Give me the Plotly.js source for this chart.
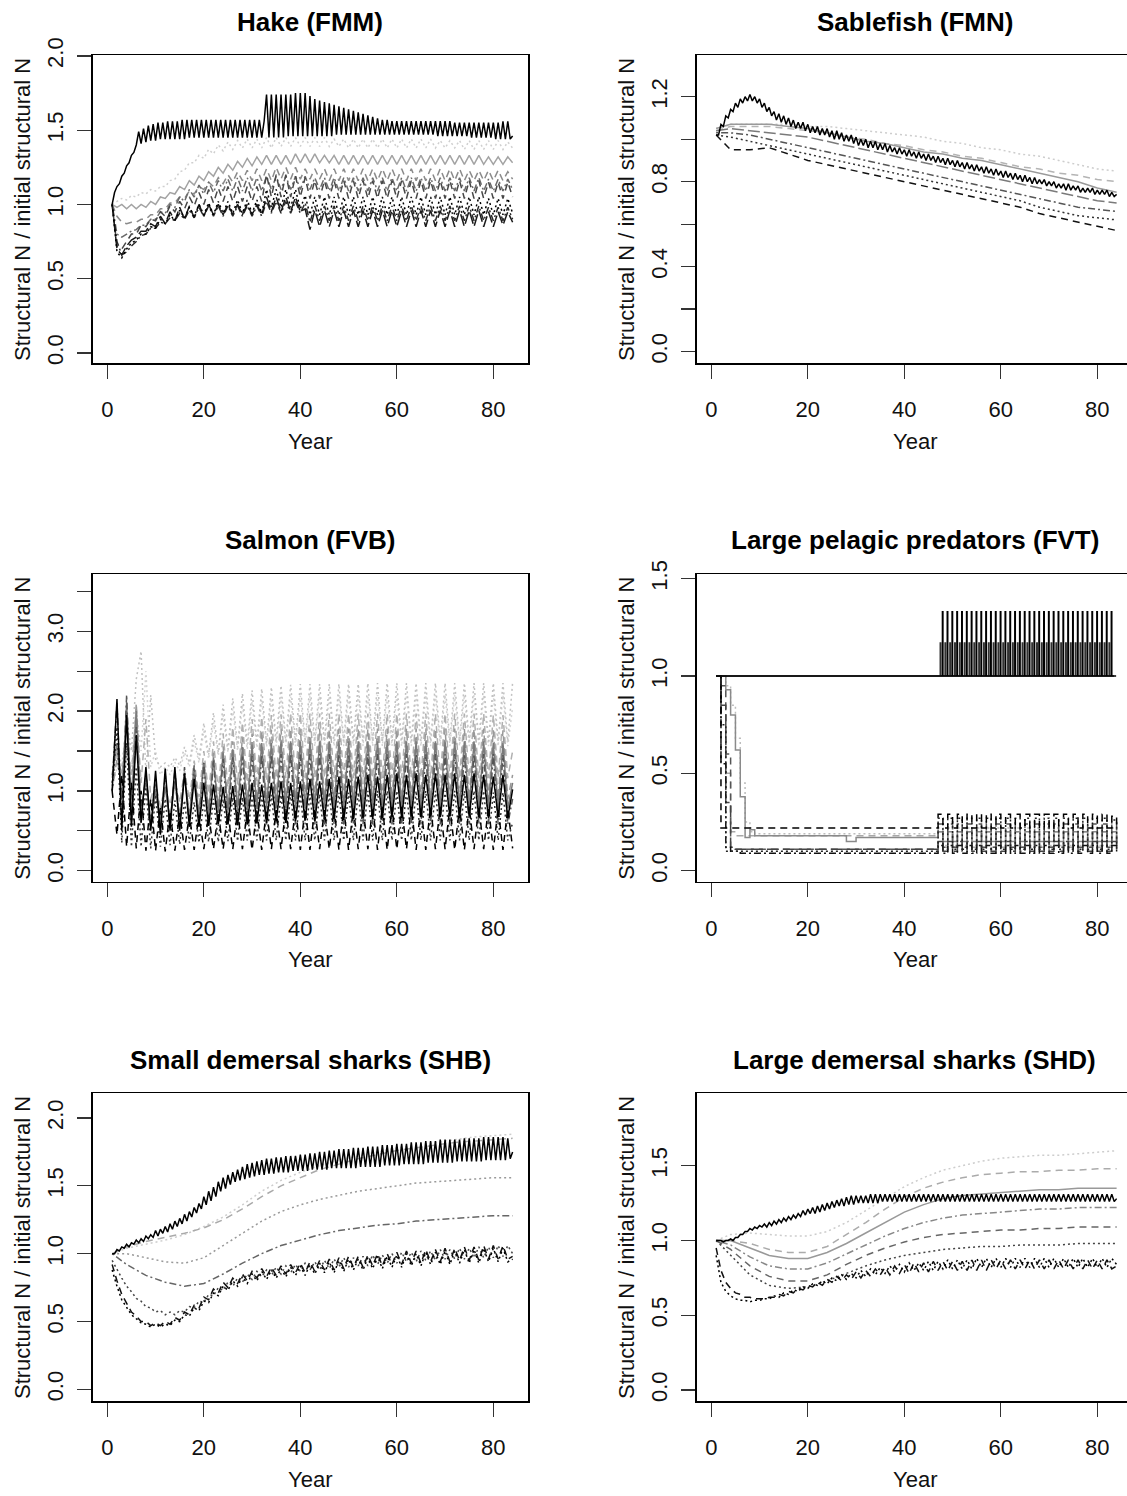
<!DOCTYPE html>
<html><head><meta charset="utf-8">
<script src="https://cdn.plot.ly/plotly-3.0.1.min.js"></script>
<style>html,body{margin:0;padding:0;background:#fff}</style>
</head><body><div id="chart" style="width:1127px;height:1496px"></div>
<script>
// ---------------- DATA ----------------
const years = Array.from({length:84},(_,i)=>i+1);
const halfYears = Array.from({length:167},(_,i)=>1+0.5*i);
const sparseYears = [1,4,8,12,16,20,24,28,32,36,40,44,48,52,56,60,64,68,72,76,80,84];
const fvtLowYears = [1,2,3,4,5,6,7,8,9,28,30,47,48,49,50,51,52,53,54,55,56,57,58,59,60,61,62,63,64,65,66,67,68,69,70,71,72,73,74,75,76,77,78,79,80,81,82,83,84];
const xTickVals = [0,20,40,60,80];
const xTickText = ['0','20','40','60','80'];

// Hake (FMM)  (hake1 sampled every half year)
const hake1 = [1.00,1.08,1.12,1.14,1.19,1.21,1.26,1.28,1.33,1.35,
 1.40,1.49,1.41,1.51,1.42,1.53,1.43,1.54,1.43,1.55,
 1.44,1.55,1.44,1.56,1.44,1.56,1.44,1.56,1.44,1.57,
 1.44,1.57,1.45,1.57,1.45,1.57,1.45,1.57,1.45,1.57,
 1.45,1.57,1.45,1.57,1.45,1.57,1.45,1.57,1.45,1.57,
 1.45,1.57,1.45,1.57,1.45,1.57,1.45,1.57,1.45,1.57,
 1.45,1.57,1.45,1.56,
 1.74,1.45,1.74,1.45,1.74,1.45,1.74,1.45,1.74,1.46,
 1.74,1.46,1.75,1.46,1.75,1.46,1.75,1.46,1.73,1.46,
 1.71,1.46,1.70,1.46,1.69,1.46,1.68,1.46,1.67,1.47,
 1.66,1.47,1.65,1.47,1.64,1.47,1.63,1.47,1.62,1.47,
 1.61,1.47,1.60,1.47,1.59,1.47,1.58,1.47,1.57,1.47,
 1.57,1.47,1.56,1.47,1.56,1.47,1.56,1.47,1.56,1.47,
 1.56,1.47,1.56,1.47,1.56,1.47,1.56,1.47,1.56,1.47,
 1.56,1.46,1.56,1.46,1.56,1.46,1.56,1.46,1.55,1.46,
 1.55,1.46,1.55,1.46,1.55,1.45,1.55,1.45,1.55,1.45,
 1.55,1.45,1.55,1.45,1.55,1.44,1.55,1.44,1.56,1.44,
 1.56,1.44,1.46];
const hake2 = [1.00,1.02,1.04,1.03,1.06,1.05,1.08,1.07,1.10,1.09,
 1.12,1.12,1.16,1.17,1.22,1.23,1.28,1.28,1.33,1.31,
 1.37,1.34,1.40,1.36,1.42,1.37,1.43,1.38,1.44,1.38,
 1.44,1.38,1.45,1.38,1.45,1.39,1.45,1.39,1.45,1.39,
 1.45,1.39,1.45,1.39,1.45,1.39,1.44,1.39,1.44,1.38,
 1.44,1.38,1.44,1.38,1.44,1.38,1.44,1.38,1.44,1.38,
 1.44,1.38,1.44,1.38,1.44,1.38,1.44,1.38,1.43,1.38,
 1.43,1.38,1.43,1.37,1.43,1.37,1.43,1.37,1.43,1.37,
 1.43,1.37,1.42,1.38];
const hake3 = [1.00,0.98,1.00,0.97,1.00,0.97,1.00,0.98,1.02,1.00,
 1.05,1.04,1.08,1.07,1.12,1.10,1.16,1.13,1.19,1.16,
 1.22,1.19,1.25,1.21,1.27,1.23,1.29,1.25,1.31,1.26,
 1.32,1.27,1.33,1.27,1.33,1.27,1.33,1.27,1.34,1.28,
 1.34,1.28,1.34,1.28,1.33,1.28,1.33,1.27,1.33,1.27,
 1.33,1.27,1.33,1.27,1.33,1.27,1.33,1.27,1.33,1.27,
 1.33,1.27,1.33,1.27,1.33,1.27,1.33,1.27,1.33,1.27,
 1.33,1.27,1.33,1.27,1.33,1.27,1.33,1.27,1.32,1.27,
 1.32,1.27,1.32,1.28];
const hake4 = [1.00,0.92,0.88,0.87,0.88,0.88,0.90,0.90,0.93,0.93,
 0.97,0.97,1.01,1.01,1.05,1.04,1.09,1.07,1.12,1.10,
 1.15,1.12,1.18,1.14,1.20,1.15,1.22,1.16,1.23,1.16,
 1.24,1.16,1.24,1.16,1.25,1.17,1.25,1.17,1.25,1.17,
 1.24,1.17,1.24,1.17,1.24,1.16,1.24,1.16,1.24,1.16,
 1.24,1.16,1.24,1.16,1.24,1.16,1.24,1.16,1.24,1.16,
 1.24,1.16,1.24,1.16,1.24,1.16,1.24,1.16,1.24,1.16,
 1.24,1.16,1.24,1.16,1.23,1.16,1.23,1.16,1.23,1.16,
 1.23,1.16,1.22,1.17];
const hake5 = [1.00,0.80,0.78,0.80,0.82,0.83,0.86,0.86,0.90,0.90,
 0.95,0.94,1.00,0.98,1.05,1.02,1.10,1.05,1.13,1.07,
 1.15,1.08,1.16,1.09,1.17,1.09,1.18,1.09,1.18,1.09,
 1.18,1.09,1.19,1.10,1.19,1.10,1.19,1.10,1.19,1.10,
 1.19,1.10,1.18,1.10,1.18,1.09,1.18,1.09,1.18,1.09,
 1.18,1.09,1.18,1.09,1.18,1.09,1.18,1.09,1.18,1.09,
 1.18,1.09,1.18,1.09,1.18,1.09,1.18,1.09,1.18,1.09,
 1.18,1.09,1.18,1.09,1.18,1.09,1.18,1.09,1.17,1.09,
 1.17,1.09,1.17,1.10];
const hake6 = [1.00,0.72,0.70,0.75,0.80,0.80,0.86,0.85,0.90,0.89,
 0.95,0.92,0.99,0.95,1.02,0.97,1.05,0.99,1.08,1.00,
 1.10,1.01,1.11,1.02,1.12,1.02,1.12,1.02,1.12,1.02,
 1.12,1.02,1.20,1.05,1.20,1.05,1.20,1.05,1.19,1.05,
 1.18,1.04,1.16,1.04,1.16,1.04,1.16,1.04,1.16,1.04,
 1.16,1.04,1.16,1.04,1.16,1.04,1.16,1.04,1.16,1.04,
 1.16,1.04,1.16,1.04,1.16,1.04,1.16,1.04,1.16,1.04,
 1.16,1.04,1.16,1.04,1.16,1.04,1.16,1.04,1.15,1.04,
 1.15,1.04,1.15,1.05];
const hake7 = [1.00,0.68,0.64,0.70,0.74,0.76,0.80,0.80,0.85,0.84,
 0.90,0.87,0.93,0.89,0.96,0.91,0.98,0.92,1.00,0.93,
 1.01,0.93,1.02,0.94,1.02,0.94,1.03,0.94,1.03,0.94,
 1.03,0.94,1.10,0.98,1.10,0.98,1.10,0.98,1.10,0.97,
 1.06,0.93,1.05,0.93,1.05,0.93,1.05,0.93,1.05,0.93,
 1.05,0.93,1.05,0.93,1.05,0.93,1.05,0.93,1.05,0.93,
 1.05,0.93,1.05,0.93,1.05,0.93,1.05,0.93,1.05,0.93,
 1.05,0.93,1.05,0.93,1.05,0.93,1.05,0.93,1.04,0.93,
 1.04,0.93,1.04,0.94];
const hake8 = [1.00,0.70,0.66,0.72,0.76,0.78,0.82,0.82,0.87,0.85,
 0.92,0.87,0.95,0.89,0.98,0.90,0.99,0.91,1.00,0.92,
 1.00,0.93,1.00,0.93,1.00,0.93,1.00,0.93,1.00,0.93,
 1.00,0.93,1.05,0.95,1.05,0.95,1.05,0.95,1.05,0.95,
 0.97,0.83,0.96,0.85,0.96,0.85,0.96,0.85,0.96,0.85,
 0.96,0.85,0.96,0.85,0.96,0.85,0.96,0.85,0.96,0.85,
 0.96,0.85,0.96,0.85,0.96,0.85,0.96,0.85,0.96,0.85,
 0.96,0.85,0.96,0.85,0.96,0.85,0.96,0.85,0.95,0.85,
 0.95,0.86,0.95,0.88];
const hake9 = [1.00,0.75,0.66,0.68,0.72,0.75,0.79,0.80,0.84,0.84,
 0.88,0.87,0.91,0.89,0.94,0.90,0.96,0.91,0.98,0.92,
 0.99,0.92,0.99,0.92,0.99,0.92,0.99,0.92,0.99,0.92,
 0.99,0.92,1.02,0.94,1.02,0.94,1.02,0.94,1.02,0.94,
 1.01,0.88,0.99,0.89,0.99,0.89,0.99,0.89,0.99,0.89,
 0.99,0.89,0.99,0.89,0.99,0.89,0.99,0.89,0.99,0.89,
 0.99,0.89,0.99,0.89,0.99,0.89,0.99,0.89,0.99,0.89,
 0.99,0.89,0.99,0.89,0.99,0.89,0.99,0.89,0.98,0.89,
 0.98,0.89,0.98,0.90];

// Sablefish (FMN)  (sable1 sampled every half year)
const sable1 = [1.02,1.02,1.07,1.06,1.11,1.10,1.14,1.13,1.17,1.15,
 1.19,1.17,1.20,1.18,1.21,1.18,1.20,1.17,1.19,1.15,
 1.17,1.13,1.15,1.11,1.13,1.09,1.12,1.08,1.11,1.07,
 1.10,1.06,1.09,1.05,1.08,1.05,1.08,1.04,1.07,1.03,
 1.06,1.03,1.06,1.02,1.05,1.02,1.05,1.01,1.04,1.00,
 1.04,1.00,1.03,0.99,1.02,0.99,1.02,0.98,1.01,0.97,
 1.00,0.97,1.00,0.96,
 0.99,0.96,0.99,0.95,0.98,0.95,0.98,0.94,0.97,0.94,
 0.96,0.93,0.96,0.93,0.95,0.92,0.95,0.92,0.94,0.91,
 0.94,0.91,0.93,0.90,0.93,0.90,0.92,0.89,0.92,0.89,
 0.91,0.88,0.91,0.88,0.90,0.87,0.90,0.87,0.89,0.86,
 0.89,0.86,0.88,0.85,0.88,0.85,0.87,0.84,0.87,0.84,
 0.86,0.83,0.86,0.83,0.85,0.82,0.85,0.82,0.84,0.81,
 0.84,0.81,0.83,0.80,0.83,0.80,0.82,0.79,0.82,0.79,
 0.81,0.79,0.81,0.78,0.80,0.78,0.80,0.77,0.79,0.77,
 0.79,0.76,0.79,0.76,0.78,0.76,0.78,0.75,0.77,0.75,
 0.77,0.75,0.77,0.74,0.76,0.74,0.76,0.74,0.76,0.73,
 0.75,0.73,0.74];
const sable2 = [1.05,1.07,1.07,1.07,1.07,1.06,1.06,1.05,1.04,1.03,1.02,1.01,0.99,0.98,0.96,0.95,0.93,0.92,0.90,0.88,0.86,0.85];
const sable3 = [1.05,1.07,1.07,1.07,1.06,1.05,1.03,1.01,0.99,0.98,0.96,0.94,0.93,0.91,0.90,0.88,0.86,0.84,0.82,0.80,0.77,0.75];
const sable4 = [1.04,1.06,1.06,1.06,1.05,1.04,1.03,1.01,1.00,0.98,0.97,0.95,0.94,0.92,0.91,0.89,0.87,0.86,0.84,0.83,0.81,0.80];
const sable5 = [1.04,1.05,1.04,1.03,1.02,1.01,0.99,0.97,0.95,0.93,0.91,0.89,0.87,0.85,0.83,0.81,0.79,0.77,0.75,0.73,0.71,0.70];
const sable6 = [1.03,1.03,1.02,1.00,0.98,0.96,0.94,0.92,0.90,0.88,0.86,0.84,0.82,0.80,0.78,0.76,0.74,0.72,0.70,0.68,0.67,0.66];
const sable7 = [1.02,1.01,0.99,0.97,0.95,0.93,0.91,0.89,0.87,0.85,0.83,0.81,0.79,0.77,0.75,0.73,0.71,0.68,0.66,0.64,0.63,0.62];
const sable8 = [1.02,0.95,0.95,0.96,0.93,0.90,0.88,0.86,0.84,0.82,0.80,0.78,0.76,0.74,0.72,0.70,0.68,0.65,0.63,0.61,0.59,0.57];

// Salmon (FVB)
const salmon1 = [1.00,2.15,0.50,1.95,0.55,1.70,0.60,1.30,0.50,1.25,
 0.45,1.28,0.50,1.30,0.50,1.22,0.55,1.15,0.55,1.10,
 0.56,1.08,0.58,1.05,0.58,1.06,0.57,1.08,0.58,1.10,
 0.60,1.08,0.60,1.10,0.62,1.12,0.60,1.10,0.62,1.12,
 0.63,1.15,0.62,1.12,0.64,1.15,0.65,1.18,0.63,1.15,
 0.65,1.18,0.66,1.20,0.65,1.18,0.66,1.20,0.67,1.22,
 0.66,1.20,0.68,1.22,0.67,1.20,0.68,1.22,0.67,1.20,
 0.68,1.22,0.66,1.20,0.68,1.22,0.67,1.20,0.66,1.18,
 0.67,1.20,0.66,1.02];
const salmon2 = [1.00,0.45,1.20,0.30,1.10,0.28,1.00,0.25,0.90,0.25,
 0.80,0.24,0.75,0.25,0.72,0.26,0.70,0.26,0.70,0.27,
 0.70,0.27,0.72,0.27,0.72,0.27,0.74,0.27,0.75,0.26,
 0.75,0.26,0.76,0.27,0.76,0.27,0.78,0.27,0.78,0.26,
 0.78,0.26,0.78,0.27,0.76,0.27,0.78,0.26,0.78,0.26,
 0.78,0.27,0.78,0.27,0.80,0.26,0.80,0.26,0.80,0.27,
 0.80,0.27,0.80,0.26,0.80,0.26,0.80,0.27,0.80,0.27,
 0.80,0.26,0.80,0.26,0.80,0.27,0.80,0.27,0.80,0.26,
 0.78,0.26,0.78,0.28];
const salmon3 = [1.00,1.80,0.35,1.60,0.30,1.30,0.30,1.05,0.28,0.95,
 0.30,0.90,0.32,0.88,0.33,0.88,0.35,0.86,0.35,0.88,
 0.36,0.90,0.36,0.90,0.37,0.92,0.37,0.92,0.38,0.94,
 0.38,0.94,0.38,0.95,0.38,0.95,0.38,0.96,0.38,0.96,
 0.38,0.96,0.38,0.96,0.38,0.98,0.38,0.98,0.38,0.98,
 0.38,0.98,0.38,1.00,0.38,1.00,0.38,1.00,0.38,1.00,
 0.38,1.00,0.38,1.00,0.38,1.00,0.38,1.00,0.38,1.00,
 0.38,1.00,0.38,1.00,0.38,1.00,0.38,1.00,0.38,0.98,
 0.38,0.98,0.38,0.60];
const salmon4 = [1.10,2.10,0.60,2.20,0.60,1.80,0.60,1.20,0.60,1.10,
 0.55,1.20,0.55,1.25,0.55,1.30,0.55,1.32,0.55,1.35,
 0.56,1.38,0.56,1.40,0.57,1.42,0.57,1.43,0.58,1.44,
 0.58,1.45,0.58,1.45,0.58,1.46,0.58,1.46,0.58,1.46,
 0.58,1.46,0.58,1.46,0.58,1.46,0.58,1.46,0.58,1.46,
 0.58,1.46,0.58,1.46,0.58,1.46,0.58,1.46,0.58,1.46,
 0.58,1.46,0.58,1.46,0.58,1.46,0.58,1.46,0.58,1.46,
 0.58,1.46,0.58,1.46,0.58,1.46,0.58,1.46,0.58,1.46,
 0.58,1.45,0.58,0.90];
const salmon5 = [1.20,1.60,0.90,2.10,0.80,2.00,0.70,1.20,0.55,1.00,
 0.60,1.05,0.62,1.12,0.64,1.20,0.66,1.28,0.68,1.35,
 0.70,1.42,0.72,1.48,0.74,1.52,0.75,1.55,0.76,1.58,
 0.77,1.60,0.78,1.60,0.78,1.62,0.78,1.62,0.78,1.62,
 0.78,1.62,0.78,1.62,0.78,1.62,0.78,1.62,0.78,1.62,
 0.78,1.62,0.78,1.62,0.78,1.62,0.78,1.62,0.78,1.62,
 0.78,1.62,0.78,1.62,0.78,1.62,0.78,1.62,0.78,1.62,
 0.78,1.62,0.78,1.62,0.78,1.62,0.78,1.62,0.78,1.60,
 0.78,1.60,0.78,1.10];
const salmon6 = [1.00,1.40,1.10,1.90,0.90,2.10,0.80,1.10,0.60,0.95,
 0.65,1.00,0.68,1.08,0.70,1.18,0.72,1.28,0.75,1.38,
 0.78,1.48,0.80,1.56,0.82,1.62,0.84,1.68,0.86,1.72,
 0.88,1.75,0.88,1.77,0.90,1.78,0.90,1.78,0.90,1.78,
 0.90,1.78,0.90,1.78,0.90,1.78,0.90,1.78,0.90,1.78,
 0.90,1.78,0.90,1.78,0.90,1.78,0.90,1.78,0.90,1.78,
 0.90,1.78,0.90,1.78,0.90,1.78,0.90,1.78,0.90,1.78,
 0.90,1.78,0.90,1.78,0.90,1.78,0.90,1.78,0.90,1.76,
 0.90,1.76,0.90,1.20];
const salmon7 = [1.10,1.50,1.20,1.60,1.20,2.05,1.10,1.90,0.90,1.10,
 0.80,1.05,0.82,1.12,0.85,1.25,0.88,1.38,0.92,1.50,
 0.96,1.62,1.00,1.72,1.04,1.80,1.08,1.86,1.10,1.90,
 1.12,1.93,1.14,1.95,1.15,1.96,1.16,1.97,1.16,1.97,
 1.16,1.97,1.16,1.97,1.16,1.97,1.16,1.97,1.16,1.97,
 1.16,1.97,1.16,1.97,1.16,1.97,1.16,1.97,1.16,1.97,
 1.16,1.97,1.16,1.97,1.16,1.97,1.16,1.97,1.16,1.97,
 1.16,1.97,1.16,1.97,1.16,1.97,1.16,1.97,1.16,1.95,
 1.16,1.95,1.16,1.50];
const salmon8 = [1.00,1.60,1.30,1.90,1.50,2.40,2.75,1.20,2.20,1.40,
 1.30,1.35,1.30,1.42,1.32,1.55,1.35,1.70,1.40,1.85,
 1.45,1.98,1.48,2.08,1.52,2.16,1.55,2.22,1.58,2.26,
 1.60,2.28,1.60,2.30,1.62,2.32,1.62,2.33,1.62,2.34,
 1.62,2.34,1.62,2.34,1.62,2.34,1.62,2.34,1.62,2.34,
 1.62,2.34,1.62,2.35,1.62,2.35,1.62,2.35,1.62,2.35,
 1.62,2.35,1.62,2.35,1.62,2.35,1.62,2.35,1.62,2.35,
 1.62,2.35,1.62,2.35,1.62,2.35,1.62,2.35,1.62,2.35,
 1.62,2.35,1.62,2.36];
const salmon9 = [1.00,1.30,1.20,1.50,1.30,2.00,1.50,2.50,1.30,1.50,
 1.20,1.30,1.20,1.36,1.25,1.48,1.30,1.62,1.35,1.75,
 1.40,1.86,1.44,1.95,1.48,2.02,1.50,2.08,1.52,2.12,
 1.54,2.14,1.55,2.16,1.56,2.18,1.56,2.18,1.56,2.19,
 1.56,2.19,1.56,2.19,1.56,2.19,1.56,2.20,1.56,2.20,
 1.56,2.20,1.56,2.20,1.56,2.20,1.56,2.20,1.56,2.20,
 1.56,2.20,1.56,2.20,1.56,2.20,1.56,2.20,1.56,2.20,
 1.56,2.20,1.56,2.20,1.56,2.20,1.56,2.20,1.56,2.20,
 1.56,2.20,1.56,2.05];

// Large pelagic predators (FVT)
const fvtTop1 = [1.00,1.00,
 1.33,1.00,1.33,1.00,1.33,1.00,1.33,1.00,1.33,1.00,1.33,1.00,1.33,1.00,1.33,1.00,1.33,1.00,1.33,1.00,
 1.33,1.00,1.33,1.00,1.33,1.00,1.33,1.00,1.33,1.00,1.33,1.00,1.33,1.00,1.33,1.00,1.33,1.00,1.33,1.00,
 1.33,1.00,1.33,1.00,1.33,1.00,1.33,1.00,1.33,1.00,1.33,1.00,1.33,1.00,1.33,1.00,1.33,1.00,1.33,1.00,
 1.33,1.00,1.33,1.00,1.33,1.00,1.33,1.00,1.33,1.00,1.33,1.00,1.00];
const fvtTop2 = [1.00,1.00,
 1.17,1.00,1.17,1.00,1.17,1.00,1.17,1.00,1.17,1.00,1.17,1.00,1.17,1.00,1.17,1.00,1.17,1.00,1.17,1.00,
 1.17,1.00,1.17,1.00,1.17,1.00,1.17,1.00,1.17,1.00,1.17,1.00,1.17,1.00,1.17,1.00,1.17,1.00,1.17,1.00,
 1.17,1.00,1.17,1.00,1.17,1.00,1.17,1.00,1.17,1.00,1.17,1.00,1.17,1.00,1.17,1.00,1.17,1.00,1.17,1.00,
 1.17,1.00,1.17,1.00,1.17,1.00,1.17,1.00,1.17,1.00,1.17,1.00,1.00];
const fvtA = [1.00,0.22,0.22,0.22,0.22,0.22,0.22,0.22,0.22,0.22,0.22,
 0.29,0.22,0.29,0.22,0.29,0.22,0.29,0.22,0.29,0.22,0.29,0.22,0.29,0.22,0.29,0.22,0.29,0.22,
 0.29,0.22,0.29,0.22,0.29,0.22,0.29,0.22,0.29,0.22,0.29,0.22,0.29,0.22,0.29,0.22,0.29,0.22,0.28,0.22];
const fvtB = [1.00,0.75,0.10,0.10,0.10,0.10,0.10,0.10,0.10,0.10,0.10,
 0.27,0.11,0.27,0.11,0.27,0.11,0.27,0.11,0.27,0.11,0.27,0.11,0.27,0.11,0.27,0.11,0.27,0.11,
 0.27,0.11,0.27,0.11,0.27,0.11,0.27,0.11,0.27,0.11,0.27,0.11,0.27,0.11,0.27,0.11,0.27,0.11,0.26,0.11];
const fvtC = [1.00,0.95,0.60,0.12,0.11,0.11,0.11,0.11,0.11,0.11,0.11,
 0.24,0.12,0.24,0.12,0.24,0.12,0.24,0.12,0.24,0.12,0.24,0.12,0.24,0.12,0.24,0.12,0.24,0.12,
 0.24,0.12,0.24,0.12,0.24,0.12,0.24,0.12,0.24,0.12,0.24,0.12,0.24,0.12,0.24,0.12,0.24,0.12,0.24,0.12];
const fvtD = [1.00,1.00,0.93,0.80,0.62,0.38,0.17,0.21,0.18,0.15,0.17,
 0.20,0.15,0.20,0.15,0.20,0.15,0.20,0.15,0.20,0.15,0.20,0.15,0.20,0.15,0.20,0.15,0.20,0.15,
 0.20,0.15,0.20,0.15,0.20,0.15,0.20,0.15,0.20,0.15,0.20,0.15,0.20,0.15,0.20,0.15,0.20,0.15,0.20,0.15];
const fvtE = [1.00,1.00,0.95,0.85,0.68,0.45,0.25,0.20,0.19,0.19,0.19,
 0.22,0.13,0.22,0.13,0.22,0.13,0.22,0.13,0.22,0.13,0.22,0.13,0.22,0.13,0.22,0.13,0.22,0.13,
 0.22,0.13,0.22,0.13,0.22,0.13,0.22,0.13,0.22,0.13,0.22,0.13,0.22,0.13,0.22,0.13,0.22,0.13,0.22,0.13];
const fvtF = [1.00,0.80,0.50,0.20,0.18,0.18,0.18,0.18,0.18,0.18,0.18,
 0.20,0.12,0.20,0.12,0.20,0.12,0.20,0.12,0.20,0.12,0.20,0.12,0.20,0.12,0.20,0.12,0.20,0.12,
 0.20,0.12,0.20,0.12,0.20,0.12,0.20,0.12,0.20,0.12,0.20,0.12,0.20,0.12,0.20,0.12,0.20,0.12,0.20,0.12];
const fvtG = [1.00,0.55,0.12,0.10,0.10,0.09,0.09,0.09,0.09,0.09,0.09,
 0.13,0.09,0.13,0.09,0.13,0.09,0.13,0.09,0.13,0.09,0.13,0.09,0.13,0.09,0.13,0.09,0.13,0.09,
 0.13,0.09,0.13,0.09,0.13,0.09,0.13,0.09,0.13,0.09,0.13,0.09,0.13,0.09,0.13,0.09,0.13,0.09,0.13,0.09];
const fvtH = [1.00,0.85,0.35,0.12,0.11,0.11,0.11,0.11,0.11,0.11,0.11,
 0.15,0.10,0.15,0.10,0.15,0.10,0.15,0.10,0.15,0.10,0.15,0.10,0.15,0.10,0.15,0.10,0.15,0.10,
 0.15,0.10,0.15,0.10,0.15,0.10,0.15,0.10,0.15,0.10,0.15,0.10,0.15,0.10,0.15,0.10,0.15,0.10,0.15,0.10];

// Small demersal sharks (SHB)  (shb1 sampled every half year)
const shb1 = [1.00,1.00,1.03,1.02,1.05,1.04,1.07,1.05,1.08,1.07,
 1.10,1.08,1.11,1.09,1.13,1.11,1.14,1.12,1.17,1.13,
 1.18,1.15,1.20,1.16,1.22,1.18,1.24,1.20,1.26,1.22,
 1.29,1.24,1.31,1.27,1.34,1.30,1.37,1.33,1.42,1.36,
 1.46,1.39,1.49,1.42,1.53,1.46,1.56,1.48,1.58,1.51,
 1.60,1.53,1.62,1.54,1.64,1.55,1.66,1.56,1.67,1.57,
 1.68,1.58,1.69,1.58,
 1.70,1.59,1.70,1.59,1.71,1.60,1.71,1.60,1.72,1.60,
 1.72,1.61,1.72,1.61,1.73,1.61,1.73,1.61,1.74,1.62,
 1.74,1.62,1.75,1.62,1.75,1.62,1.76,1.63,1.76,1.63,
 1.77,1.63,1.77,1.63,1.77,1.63,1.78,1.63,1.78,1.64,
 1.78,1.64,1.79,1.64,1.79,1.64,1.79,1.64,1.80,1.65,
 1.80,1.65,1.80,1.65,1.81,1.65,1.81,1.66,1.81,1.66,
 1.82,1.66,1.82,1.66,1.82,1.66,1.83,1.67,1.83,1.67,
 1.83,1.67,1.84,1.67,1.84,1.67,1.84,1.67,1.84,1.68,
 1.84,1.68,1.85,1.68,1.85,1.68,1.85,1.68,1.85,1.68,
 1.86,1.69,1.86,1.69,1.86,1.69,1.86,1.69,1.86,1.69,
 1.85,1.70,1.75];
const shb2 = [1.00,1.04,1.07,1.10,1.14,1.20,1.27,1.36,1.46,1.54,1.60,1.65,1.69,1.72,1.75,1.78,1.80,1.82,1.84,1.86,1.87,1.88];
const shb3 = [1.00,1.05,1.09,1.12,1.15,1.19,1.25,1.33,1.42,1.50,1.56,1.62,1.66,1.70,1.73,1.76,1.78,1.80,1.82,1.83,1.84,1.85];
const shb4 = [1.00,1.00,0.97,0.94,0.93,0.97,1.06,1.15,1.24,1.31,1.36,1.40,1.43,1.46,1.48,1.50,1.52,1.53,1.54,1.55,1.56,1.56];
const shb5 = [1.00,0.92,0.84,0.79,0.76,0.78,0.85,0.93,1.00,1.06,1.10,1.14,1.17,1.19,1.21,1.22,1.24,1.25,1.26,1.27,1.28,1.28];
const shb6 = [0.95,0.88,0.82,0.76,0.72,0.67,0.65,0.61,0.60,0.57,
 0.58,0.55,0.57,0.55,0.58,0.57,0.61,0.60,0.65,0.64,
 0.70,0.69,0.75,0.73,0.79,0.76,0.82,0.79,0.85,0.81,
 0.87,0.83,0.88,0.84,0.90,0.85,0.91,0.86,0.92,0.87,
 0.93,0.88,0.94,0.88,0.95,0.89,0.96,0.90,0.97,0.90,
 0.97,0.91,0.98,0.91,0.99,0.92,0.99,0.93,1.00,0.93,
 1.01,0.94,1.01,0.94,1.02,0.95,1.02,0.95,1.03,0.96,
 1.03,0.96,1.04,0.96,1.04,0.97,1.05,0.97,1.05,0.97,
 1.06,0.98,1.06,1.00];
const shb7 = [0.92,0.80,0.70,0.63,0.57,0.54,0.50,0.50,0.47,0.49,
 0.47,0.50,0.48,0.53,0.51,0.57,0.55,0.62,0.60,0.68,
 0.66,0.74,0.71,0.79,0.75,0.82,0.78,0.85,0.80,0.87,
 0.82,0.89,0.83,0.90,0.84,0.91,0.85,0.92,0.86,0.93,
 0.86,0.94,0.87,0.95,0.88,0.96,0.88,0.97,0.89,0.98,
 0.90,0.98,0.90,0.99,0.91,1.00,0.91,1.00,0.92,1.01,
 0.92,1.02,0.93,1.02,0.93,1.03,0.94,1.03,0.94,1.04,
 0.94,1.04,0.95,1.05,0.95,1.05,0.95,1.06,0.96,1.06,
 0.96,1.06,0.96,0.98];
const shb8 = [0.88,0.76,0.66,0.60,0.55,0.52,0.49,0.48,0.46,0.48,
 0.46,0.48,0.47,0.51,0.50,0.55,0.54,0.60,0.58,0.65,
 0.64,0.71,0.69,0.76,0.73,0.80,0.76,0.83,0.78,0.85,
 0.80,0.87,0.81,0.88,0.82,0.89,0.83,0.90,0.84,0.91,
 0.84,0.92,0.85,0.93,0.86,0.94,0.86,0.95,0.87,0.96,
 0.88,0.96,0.88,0.97,0.89,0.98,0.89,0.98,0.90,0.99,
 0.90,1.00,0.91,1.00,0.91,1.01,0.92,1.01,0.92,1.02,
 0.92,1.02,0.93,1.03,0.93,1.03,0.93,1.04,0.94,1.04,
 0.94,1.04,0.94,0.96];

// Large demersal sharks (SHD)  (shd1 sampled every half year)
const shd1 = [1.00,1.00,1.00,0.99,1.00,1.00,1.01,1.00,1.02,1.02,
 1.04,1.04,1.06,1.06,1.08,1.07,1.09,1.08,1.10,1.09,
 1.11,1.09,1.12,1.10,1.13,1.11,1.14,1.12,1.15,1.13,
 1.16,1.14,1.17,1.15,1.18,1.16,1.20,1.17,1.21,1.18,
 1.22,1.18,1.23,1.19,1.24,1.20,1.25,1.21,1.26,1.22,
 1.27,1.23,1.28,1.23,1.29,1.24,1.30,1.24,1.30,1.25,
 1.30,1.25,1.30,1.25,
 1.31,1.25,1.31,1.25,1.31,1.26,1.31,1.26,1.31,1.26,
 1.31,1.26,1.31,1.26,1.31,1.26,1.31,1.26,1.31,1.26,
 1.31,1.26,1.31,1.26,1.31,1.26,1.31,1.26,1.31,1.26,
 1.31,1.26,1.31,1.26,1.31,1.26,1.31,1.26,1.31,1.26,
 1.31,1.26,1.31,1.26,1.31,1.26,1.31,1.26,1.31,1.26,
 1.31,1.26,1.31,1.26,1.31,1.26,1.31,1.26,1.31,1.26,
 1.31,1.26,1.31,1.26,1.31,1.26,1.31,1.26,1.31,1.26,
 1.31,1.26,1.31,1.26,1.31,1.26,1.31,1.26,1.31,1.26,
 1.31,1.26,1.31,1.26,1.31,1.26,1.31,1.26,1.31,1.26,
 1.31,1.26,1.31,1.26,1.31,1.26,1.31,1.26,1.31,1.26,
 1.31,1.26,1.28];
const shd2 = [1.00,1.04,1.05,1.04,1.03,1.03,1.06,1.12,1.20,1.28,1.36,1.42,1.47,1.50,1.53,1.55,1.56,1.57,1.57,1.58,1.59,1.60];
const shd3 = [1.00,1.00,0.98,0.94,0.92,0.92,0.96,1.04,1.12,1.21,1.29,1.35,1.39,1.42,1.44,1.45,1.46,1.46,1.47,1.47,1.48,1.48];
const shd4 = [1.00,1.00,0.95,0.90,0.88,0.88,0.92,0.98,1.05,1.12,1.19,1.24,1.28,1.30,1.31,1.32,1.33,1.34,1.34,1.35,1.35,1.35];
const shd5 = [1.00,0.97,0.89,0.83,0.81,0.81,0.85,0.91,0.97,1.03,1.08,1.12,1.15,1.17,1.18,1.19,1.20,1.21,1.21,1.22,1.22,1.22];
const shd6 = [1.00,0.94,0.83,0.76,0.73,0.73,0.77,0.84,0.90,0.95,0.99,1.02,1.04,1.05,1.06,1.07,1.07,1.08,1.08,1.09,1.09,1.09];
const shd7 = [1.00,0.90,0.77,0.70,0.68,0.69,0.73,0.78,0.83,0.87,0.90,0.92,0.94,0.95,0.96,0.96,0.97,0.97,0.97,0.98,0.98,0.98];
const shd8 = [0.95,0.80,0.72,0.68,0.65,0.64,0.62,0.62,0.61,0.61,
 0.61,0.62,0.62,0.64,0.63,0.66,0.65,0.68,0.67,0.70,
 0.69,0.72,0.70,0.74,0.72,0.76,0.73,0.77,0.74,0.79,
 0.75,0.80,0.76,0.81,0.77,0.82,0.77,0.83,0.78,0.84,
 0.78,0.85,0.79,0.85,0.79,0.86,0.80,0.86,0.80,0.86,
 0.80,0.86,0.80,0.87,0.80,0.87,0.80,0.87,0.81,0.87,
 0.81,0.87,0.81,0.87,0.81,0.87,0.81,0.87,0.81,0.87,
 0.81,0.87,0.81,0.87,0.81,0.87,0.81,0.87,0.81,0.87,
 0.81,0.87,0.81,0.83];
const shd9 = [0.90,0.72,0.66,0.63,0.61,0.60,0.60,0.59,0.60,0.60,
 0.61,0.61,0.63,0.62,0.65,0.64,0.67,0.66,0.69,0.68,
 0.71,0.70,0.73,0.71,0.75,0.73,0.77,0.74,0.78,0.75,
 0.80,0.76,0.81,0.77,0.82,0.78,0.83,0.79,0.84,0.79,
 0.85,0.80,0.85,0.80,0.86,0.80,0.86,0.81,0.87,0.81,
 0.87,0.81,0.87,0.81,0.88,0.82,0.88,0.82,0.88,0.82,
 0.88,0.82,0.88,0.82,0.88,0.82,0.88,0.82,0.88,0.82,
 0.88,0.82,0.88,0.82,0.88,0.82,0.88,0.82,0.88,0.82,
 0.88,0.82,0.88,0.84];

// time points for the spiky FVT top lines (one short pulse per year after year 47)
const fvtTopYears1 = [1,47]; for (let y=47; y<84; y++) fvtTopYears1.push(y+0.9, y+1);
const fvtTopYears2 = [1,47]; for (let y=47; y<84; y++) fvtTopYears2.push(y+0.45, y+0.55);
fvtTopYears1.length = fvtTop1.length; fvtTopYears2.length = fvtTop2.length;

// ---------------- STYLE / LAYOUT ----------------
const DASH = {solid:'solid', dashed:'7px,5px', dotted:'2px,3px', dotdash:'2px,3px,7px,3px', longdash:'12px,4px', twodash:'4px,3px,9px,3px'};
const W = 1127, H = 1496;
const rowTop = [55.3, 574.0, 1093.3], boxH = 308;
const colLeft = [92.7, 696.7], boxW = 435.6;
const pxPerYear = 4.825, xMin = -3.03;
const FONT = 'Liberation Sans, Arial, Helvetica, sans-serif';

const panels = [
 {title:'Hake (FMM)', col:0, row:0, yr:[-0.07,2.004], tv:[0,0.5,1,1.5,2], tt:['0.0','0.5','1.0','1.5','2.0'],
  s:[[years,hake2,'#cfcfcf','dotted'],[years,hake3,'#a3a3a3','solid'],[years,hake4,'#8a8a8a','dashed'],[years,hake5,'#6a6a6a','dotdash'],
     [years,hake6,'#474747','dashed'],[years,hake9,'#2a2a2a','dotdash'],[years,hake8,'#1a1a1a','longdash'],[years,hake7,'#000','dotted'],[halfYears,hake1,'#000','solid']]},
 {title:'Sablefish (FMN)', col:1, row:0, yr:[-0.055,1.395], tv:[0,0.2,0.4,0.6,0.8,1.0,1.2], tt:['0.0','','0.4','','0.8','','1.2'],
  s:[[sparseYears,sable2,'#cdcdcd','dotted'],[sparseYears,sable4,'#b4b4b4','dashed'],[sparseYears,sable3,'#9a9a9a','solid'],[sparseYears,sable5,'#7a7a7a','longdash'],
     [sparseYears,sable6,'#555','dotdash'],[sparseYears,sable7,'#333','dotted'],[sparseYears,sable8,'#111','dashed'],[halfYears,sable1,'#000','solid']]},
 {title:'Salmon (FVB)', col:0, row:1, yr:[-0.142,3.718], tv:[0,0.5,1,1.5,2,2.5,3,3.5], tt:['0.0','','1.0','','2.0','','3.0',''],
  s:[[years,salmon9,'#d4d4d4','dotted'],[years,salmon8,'#c2c2c2','dotted'],[years,salmon7,'#b0b0b0','dashed'],[years,salmon6,'#989898','dashed'],
     [years,salmon5,'#7a7a7a','solid'],[years,salmon4,'#555','dotdash'],[years,salmon3,'#333','dotted'],[years,salmon2,'#000','dashed'],[years,salmon1,'#000','solid']]},
 {title:'Large pelagic predators (FVT)', col:1, row:1, yr:[-0.058,1.524], tv:[0,0.5,1,1.5], tt:['0.0','0.5','1.0','1.5'], shape:'hv',
  s:[[fvtLowYears,fvtE,'#bdbdbd','dotted'],[fvtLowYears,fvtF,'#a8a8a8','dashed'],[fvtLowYears,fvtD,'#8a8a8a','solid'],[fvtLowYears,fvtC,'#555','dashed'],
     [fvtLowYears,fvtH,'#444','longdash'],[fvtLowYears,fvtG,'#111','dotdash'],[fvtLowYears,fvtB,'#222','dotted'],[fvtLowYears,fvtA,'#000','dashed'],
     [fvtTopYears2,fvtTop2,'#333','solid'],[fvtTopYears1,fvtTop1,'#000','solid']]},
 {title:'Small demersal sharks (SHB)', col:0, row:2, yr:[-0.088,2.182], tv:[0,0.5,1,1.5,2], tt:['0.0','0.5','1.0','1.5','2.0'],
  s:[[sparseYears,shb2,'#cdcdcd','dotted'],[sparseYears,shb3,'#aaaaaa','dashed'],[sparseYears,shb4,'#999','dotted'],[sparseYears,shb5,'#666','dotdash'],
     [years,shb6,'#444','dotted'],[years,shb7,'#111','dashed'],[years,shb8,'#000','dotted'],[halfYears,shb1,'#000','solid']]},
 {title:'Large demersal sharks (SHD)', col:1, row:2, yr:[-0.075,1.984], tv:[0,0.5,1,1.5], tt:['0.0','0.5','1.0','1.5'],
  s:[[sparseYears,shd2,'#cdcdcd','dotted'],[sparseYears,shd3,'#ababab','dashed'],[sparseYears,shd4,'#999','solid'],[sparseYears,shd5,'#888','dotdash'],
     [sparseYears,shd6,'#666','dashed'],[sparseYears,shd7,'#444','dotted'],[years,shd8,'#111','dashed'],[years,shd9,'#000','dotted'],[halfYears,shd1,'#000','solid']]}
];

const traces = [];
const layout = {width:W, height:H, margin:{l:0,r:0,t:0,b:0}, paper_bgcolor:'#fff', plot_bgcolor:'#fff',
  showlegend:false, font:{family:FONT, color:'#000'}, annotations:[]};

panels.forEach((p, i) => {
  const n = i + 1, xs = n === 1 ? '' : String(n);
  const left = colLeft[p.col], top = rowTop[p.row];
  const right = Math.min(W, left + boxW);
  const xmax = xMin + (right - left) / pxPerYear;
  layout['xaxis' + xs] = {domain:[left / W, right / W], range:[xMin, xmax], anchor:'y' + xs,
    showline:true, mirror:true, linecolor:'#000', linewidth:1.3, ticks:'outside', ticklen:14, tickwidth:1.3, tickcolor:'#333',
    tickvals:xTickVals, ticktext:xTickText, tickfont:{size:22, color:'#111', family:FONT}, ticklabelstandoff:12,
    showgrid:false, zeroline:false, fixedrange:true};
  layout['yaxis' + xs] = {domain:[1 - (top + boxH) / H, 1 - top / H], range:p.yr, anchor:'x' + xs,
    showline:true, mirror:p.col === 0, linecolor:'#000', linewidth:1.3, ticks:'outside', ticklen:14, tickwidth:1.3, tickcolor:'#333',
    tickvals:p.tv, ticktext:p.tt, tickangle:-90, tickfont:{size:22, color:'#111', family:FONT}, ticklabelstandoff:6,
    showgrid:false, zeroline:false, fixedrange:true};
  p.s.forEach(([x, y, c, d]) => traces.push({x:x, y:y, xaxis:'x' + xs, yaxis:'y' + xs, type:'scatter', mode:'lines',
    line:{color:c, width:1.5, dash:DASH[d], shape:p.shape || 'linear'}, hoverinfo:'skip'}));
  const cx = (left + left + boxW) / 2;
  const dy = top - rowTop[0];
  layout.annotations.push({text:'<b>' + p.title + '</b>', xref:'paper', yref:'paper', x:cx / W, y:1 - (21.5 + dy) / H,
    xanchor:'center', yanchor:'middle', showarrow:false, font:{size:26, color:'#000', family:FONT}});
  layout.annotations.push({text:'Year', xref:'paper', yref:'paper', x:cx / W, y:1 - (441 + dy) / H,
    xanchor:'center', yanchor:'middle', showarrow:false, font:{size:22, color:'#111', family:FONT}});
  layout.annotations.push({text:'Structural N / initial structural N', xref:'paper', yref:'paper', x:(left - 70) / W, y:1 - (top + boxH / 2) / H,
    xanchor:'center', yanchor:'middle', textangle:-90, showarrow:false, font:{size:22, color:'#111', family:FONT}});
});

Plotly.newPlot('chart', traces, layout, {staticPlot:true, displayModeBar:false});
</script></body></html>
